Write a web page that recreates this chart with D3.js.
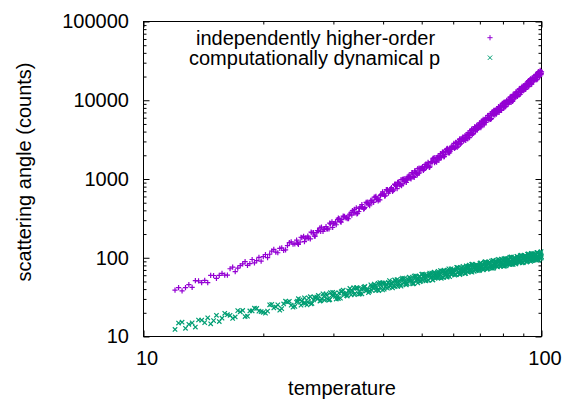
<!DOCTYPE html>
<html>
<head>
<meta charset="utf-8">
<script src="https://cdn.jsdelivr.net/npm/d3@7"></script>
<style>
  body { margin: 0; background: #fff; }
  svg { display: block; font-family: "Liberation Sans", Arial, sans-serif; }
  .axis text { font-size: 20px; fill: #000; font-family: "Liberation Sans", Arial, sans-serif; }
  .axis line { stroke: #000; }
  .axis path.domain { display: none; }
</style>
</head>
<body>
<svg id="chart" width="571" height="399"></svg>
<script>
// temperature samples, first pass
const temperatureA = [
  12, 12.5, 13, 13.5, 14, 14.5, 15, 15.5, 16, 16.5, 17, 17.5, 18, 18.5, 19, 19.5,
  20, 20.5, 21, 21.5, 22, 22.5, 23, 23.5, 24, 24.5, 25, 25.5, 26, 26.5, 27, 27.5,
  28, 28.5, 29, 29.5, 30, 30.5, 31, 31.5, 32, 32.5, 33, 33.5, 34, 34.5, 35, 35.5,
  36, 36.5, 37, 37.5, 38, 38.5, 39, 39.5, 40, 40.5, 41, 41.5, 42, 42.5, 43, 43.5,
  44, 44.5, 45, 45.5, 46, 46.5, 47, 47.5, 48, 48.5, 49, 49.5, 50, 50.5, 51, 51.5,
  52, 52.5, 53, 53.5, 54, 54.5, 55, 55.5, 56, 56.5, 57, 57.5, 58, 58.5, 59, 59.5,
  60, 60.5, 61, 61.5, 62, 62.5, 63, 63.5, 64, 64.5, 65, 65.5, 66, 66.5, 67, 67.5,
  68, 68.5, 69, 69.5, 70, 70.5, 71, 71.5, 72, 72.5, 73, 73.5, 74, 74.5, 75, 75.5,
  76, 76.5, 77, 77.5, 78, 78.5, 79, 79.5, 80, 80.5, 81, 81.5, 82, 82.5, 83, 83.5,
  84, 84.5, 85, 85.5, 86, 86.5, 87, 87.5, 88, 88.5, 89, 89.5, 90, 90.5, 91, 91.5,
  92, 92.5, 93, 93.5, 94, 94.5, 95, 95.5, 96, 96.5, 97, 97.5, 98, 98.5, 99, 99.5,
  100
];

// temperature samples, second pass
const temperatureB = [
  12.25, 12.75, 13.25, 13.75, 14.25, 14.75, 15.25, 15.75, 16.25, 16.75, 17.25, 17.75,
  18.25, 18.75, 19.25, 19.75, 20.25, 20.75, 21.25, 21.75, 22.25, 22.75, 23.25, 23.75,
  24.25, 24.75, 25.25, 25.75, 26.25, 26.75, 27.25, 27.75, 28.25, 28.75, 29.25, 29.75,
  30.25, 30.75, 31.25, 31.75, 32.25, 32.75, 33.25, 33.75, 34.25, 34.75, 35.25, 35.75,
  36.25, 36.75, 37.25, 37.75, 38.25, 38.75, 39.25, 39.75, 40.25, 40.75, 41.25, 41.75,
  42.25, 42.75, 43.25, 43.75, 44.25, 44.75, 45.25, 45.75, 46.25, 46.75, 47.25, 47.75,
  48.25, 48.75, 49.25, 49.75, 50.25, 50.75, 51.25, 51.75, 52.25, 52.75, 53.25, 53.75,
  54.25, 54.75, 55.25, 55.75, 56.25, 56.75, 57.25, 57.75, 58.25, 58.75, 59.25, 59.75,
  60.25, 60.75, 61.25, 61.75, 62.25, 62.75, 63.25, 63.75, 64.25, 64.75, 65.25, 65.75,
  66.25, 66.75, 67.25, 67.75, 68.25, 68.75, 69.25, 69.75, 70.25, 70.75, 71.25, 71.75,
  72.25, 72.75, 73.25, 73.75, 74.25, 74.75, 75.25, 75.75, 76.25, 76.75, 77.25, 77.75,
  78.25, 78.75, 79.25, 79.75, 80.25, 80.75, 81.25, 81.75, 82.25, 82.75, 83.25, 83.75,
  84.25, 84.75, 85.25, 85.75, 86.25, 86.75, 87.25, 87.75, 88.25, 88.75, 89.25, 89.75,
  90.25, 90.75, 91.25, 91.75, 92.25, 92.75, 93.25, 93.75, 94.25, 94.75, 95.25, 95.75,
  96.25, 96.75, 97.25, 97.75, 98.25, 98.75, 99.25, 99.75
];

// temperature samples, third pass (upper range only)
const temperatureC = [
  24.375, 24.875, 25.375, 25.875, 26.375, 26.875, 27.375, 27.875, 28.375, 28.875,
  29.375, 29.875, 30.375, 30.875, 31.375, 31.875, 32.375, 32.875, 33.375, 33.875,
  34.375, 34.875, 35.375, 35.875, 36.375, 36.875, 37.375, 37.875, 38.375, 38.875,
  39.375, 39.875, 40.375, 40.875, 41.375, 41.875, 42.375, 42.875, 43.375, 43.875,
  44.375, 44.875, 45.375, 45.875, 46.375, 46.875, 47.375, 47.875, 48.375, 48.875,
  49.375, 49.875, 50.375, 50.875, 51.375, 51.875, 52.375, 52.875, 53.375, 53.875,
  54.375, 54.875, 55.375, 55.875, 56.375, 56.875, 57.375, 57.875, 58.375, 58.875,
  59.375, 59.875, 60.375, 60.875, 61.375, 61.875, 62.375, 62.875, 63.375, 63.875,
  64.375, 64.875, 65.375, 65.875, 66.375, 66.875, 67.375, 67.875, 68.375, 68.875,
  69.375, 69.875, 70.375, 70.875, 71.375, 71.875, 72.375, 72.875, 73.375, 73.875,
  74.375, 74.875, 75.375, 75.875, 76.375, 76.875, 77.375, 77.875, 78.375, 78.875,
  79.375, 79.875, 80.375, 80.875, 81.375, 81.875, 82.375, 82.875, 83.375, 83.875,
  84.375, 84.875, 85.375, 85.875, 86.375, 86.875, 87.375, 87.875, 88.375, 88.875,
  89.375, 89.875, 90.375, 90.875, 91.375, 91.875, 92.375, 92.875, 93.375, 93.875,
  94.375, 94.875, 95.375, 95.875, 96.375, 96.875, 97.375, 97.875, 98.375, 98.875,
  99.375, 99.875
];

// "independently higher-order" (purple +)
const higherOrderA = [
  38.9, 38.0, 45.7, 51.3, 48.4, 48.4, 59.5, 59.6, 60.3, 72.5, 66.8, 79.4, 89.1, 84.1, 86.1, 101,
  103.5, 100.6, 121.7, 118.2, 131.8, 123.7, 142.8, 159.5, 149.6, 147.9, 179.8, 177.8, 177.8, 209.0, 188.5, 221.3,
  245.4, 229.0, 231.8, 269.1, 272.4, 262.4, 315.0, 304.2, 336.5, 313.2, 358.9, 398.2, 370.7, 365.6, 443.5, 437.5,
  436.5, 510.3, 457.3, 533.9, 588.6, 546.3, 549.5, 634.5, 638.6, 613.0, 733.2, 704.2, 776.1, 720.3, 822.0, 907.3,
  841.4, 824.4, 994.4, 975, 966.5, 1122, 1001, 1161, 1272, 1174, 1175, 1349, 1350, 1285, 1523, 1450,
  1585, 1462, 1659, 1820, 1679, 1637, 1961, 1910, 1883, 2184, 1940, 2244, 2454, 2259, 2251, 2576,
  2571, 2448, 2902, 2762, 3020, 2779, 3144, 3436, 3162, 3083, 3694, 3597, 3548, 4113, 3654, 4226,
  4622, 4255, 4242, 4852, 4843, 4612, 5467, 5202, 5688, 5217, 5886, 6422, 5888, 5721, 6838, 6646,
  6531, 7520, 6649, 7655, 8314, 7601, 7543, 8590, 8515, 8052, 9499, 8999, 9772, 8931, 10055, 10941,
  9999, 9683, 11545, 11194, 10965, 12624, 11161, 12852, 13958, 12762, 12663, 14419, 14295, 13517, 15947, 15108,
  16404, 14958, 16783, 18198, 16595, 16032, 19050, 18408, 17988, 20663, 18205, 20890, 22637, 20649, 20416, 23171,
  22918
];

const higherOrderB = [
  41.8, 41.7, 42.0, 51.0, 51.6, 59.9, 54.7, 63.5, 60.3, 75.9, 73.7, 83.7, 79.9, 95.0, 91.7, 90.7,
  110.0, 110.7, 127.7, 115.8, 133.8, 125.6, 155.4, 149.3, 167.9, 158.5, 186.3, 177.8, 173.8, 209.0, 209.0, 239.9,
  216.3, 248.3, 231.9, 285.2, 272.2, 304.5, 287.2, 337.1, 321.0, 313.0, 375.9, 375.5, 430.0, 386.9, 443.1, 412.9,
  505.7, 480.4, 535.5, 502.7, 587.6, 557.5, 541.8, 647.6, 644, 734.9, 658.9, 752.1, 698.4, 853.9, 811.2, 904.4,
  847.6, 987.8, 935.0, 906.1, 1078, 1066, 1209, 1078, 1223, 1129, 1373, 1297, 1435, 1336, 1547, 1456,
  1405, 1669, 1651, 1873, 1668, 1887, 1736, 2104, 1982, 2192, 2039, 2362, 2223, 2142, 2536, 2501,
  2830, 2516, 2846, 2620, 3178, 2993, 3306, 3077, 3567, 3356, 3231, 3828, 3776, 4272, 3796, 4295,
  3956, 4796, 4514, 4988, 4646, 5383, 5061, 4876, 5772, 5673, 6400, 5673, 6400, 5875, 7102, 6668,
  7336, 6790, 7826, 7319, 7007, 8256, 8097, 9107, 8045, 9052, 8289, 9990, 9349, 10273, 9513, 10958,
  10243, 9813, 11567, 11338, 12745, 11266, 12683, 11608, 13982, 13092, 14395, 13321, 15337, 14344, 13749, 16199,
  15850, 17776, 15668, 17578, 16041, 19278, 17998, 19721, 18198, 20903, 19495, 18622, 21876, 21381, 23979, 21135
];

const higherOrderC = [
  153.2, 182.0, 160.3, 188.3, 211.3, 188.4, 221.3, 216.3, 231.8, 231.8,
  275.4, 242.8, 284.6, 318.6, 283.8, 332.9, 324.5, 347.0, 346.8, 411.5,
  361.7, 423.8, 474.4, 421.9, 493.4, 479.3, 510.7, 507.8, 600.2, 525.7,
  613.8, 684.8, 606.9, 709.1, 688.8, 734.0, 729.9, 862.4, 755.7, 882.3,
  981.8, 868.0, 1011, 979.9, 1038, 1027, 1206, 1050, 1219, 1352,
  1191, 1385, 1335, 1410, 1390, 1628, 1417, 1645, 1825, 1608,
  1865, 1796, 1896, 1869, 2191, 1902, 2201, 2434, 2140, 2478,
  2385, 2521, 2486, 2912, 2528, 2927, 3239, 2846, 3294, 3172,
  3354, 3305, 3870, 3362, 3895, 4306, 3781, 4381, 4222, 4459,
  4392, 5147, 4472, 5177, 5721, 5029, 5813, 5583, 5882, 5780,
  6752, 5847, 6751, 7443, 6504, 7493, 7179, 7539, 7384, 8605,
  7434, 8554, 9399, 8213, 9465, 9062, 9512, 9326, 10869, 9382,
  10794, 11871, 10376, 11946, 11434, 12013, 11781, 13719, 11838, 13632,
  14997, 13097, 15074, 14439, 15176, 14869, 17280, 14877, 17077, 18721,
  16308, 18728, 17882, 18729, 18303, 21259, 18303, 21009, 23032, 20063,
  23039, 21999
];

// "computationally dynamical p" (green x)
const dynamicalPA = [
  12.3, 15.2, 14.3, 13.2, 16.1, 17.3, 15.9, 15.5, 19.7, 18.6, 17.7, 20.6, 17.9, 21.1, 22.9, 21.0,
  20.3, 21.0, 25.6, 23.7, 21.6, 25.9, 27.4, 25.0, 24.1, 30.2, 28.1, 26.5, 30.7, 26.3, 30.7, 33.2,
  30.1, 28.9, 29.8, 36.0, 33.0, 29.9, 35.7, 37.6, 34.0, 32.6, 40.7, 37.7, 35.3, 40.7, 34.7, 40.4,
  43.4, 39.2, 37.6, 38.5, 46.4, 42.4, 38.2, 45.5, 47.7, 43.0, 41.1, 51.2, 47.3, 44.1, 50.7, 43.2,
  50.1, 53.6, 48.4, 46.2, 47.2, 56.7, 51.7, 46.6, 55.3, 57.8, 52.1, 49.7, 61.7, 56.8, 53.0, 60.7,
  51.6, 59.8, 63.9, 57.5, 54.8, 55.9, 67.1, 61.1, 54.9, 65.1, 68.0, 61.1, 58.2, 72.2, 66.4, 61.8,
  70.8, 60.0, 69.4, 74.1, 66.6, 63.5, 64.7, 77.5, 70.4, 63.2, 74.9, 78.1, 70.1, 66.7, 82.7, 76.0,
  70.6, 80.8, 68.5, 79.1, 84.4, 75.7, 72.0, 73.3, 87.7, 79.6, 71.4, 84.4, 87.9, 78.8, 74.9, 92.7,
  85.0, 79.0, 90.2, 76.4, 88.2, 93.9, 84.2, 80.0, 81.4, 97.3, 88.2, 79.0, 93.4, 97.3, 87.2, 82.7,
  102.3, 93.8, 87.1, 99.4, 84.1, 97.0, 103.3, 92.5, 87.9, 89.3, 106.7, 96.7, 86.6, 102.3, 106.4, 95.3,
  90.5, 111.9, 102.5, 95.0, 108.4, 91.7, 105.7, 112.5, 100.7, 95.6, 97.1, 116.0, 105.1, 94.0, 111.0, 115.4,
  103.4
];

const dynamicalPB = [
  14.8, 12.7, 14.9, 16.2, 15.0, 14.5, 18.6, 17.1, 18.9, 17.0, 21.3, 21.4, 18.1, 21.1, 22.7, 20.7,
  19.8, 25.3, 23.1, 25.3, 22.6, 28.1, 28.0, 23.6, 27.3, 29.2, 26.5, 25.2, 32.0, 29.1, 31.7, 28.2,
  34.9, 34.7, 29.0, 33.5, 35.7, 32.3, 30.6, 38.7, 35.1, 38.1, 33.8, 41.7, 41.3, 34.5, 39.7, 42.2,
  38.1, 36.0, 45.4, 41.1, 44.6, 39.3, 48.4, 47.9, 39.9, 45.9, 48.6, 43.9, 41.4, 52.2, 47.1, 51.0,
  44.9, 55.2, 54.6, 45.4, 52.0, 55.1, 49.6, 46.8, 58.9, 53.0, 57.4, 50.5, 62.0, 61.2, 50.9, 58.2,
  61.6, 55.4, 52.2, 65.6, 59.0, 63.8, 56.1, 68.8, 67.8, 56.3, 64.4, 68.1, 61.2, 57.6, 72.3, 65.0,
  70.2, 61.7, 75.6, 74.4, 61.8, 70.6, 74.6, 67.0, 63.0, 79.0, 71.0, 76.6, 67.3, 82.4, 81.1, 67.2,
  76.8, 81.1, 72.7, 68.4, 85.7, 76.9, 82.9, 72.7, 89.0, 87.5, 72.5, 82.7, 87.2, 78.2, 73.4, 91.9,
  82.5, 88.9, 77.9, 95.3, 93.6, 77.5, 88.4, 93.2, 83.5, 78.4, 98.1, 88.0, 94.7, 83.0, 101.5, 99.7,
  82.5, 94.1, 99.1, 88.8, 83.3, 104.2, 93.4, 100.6, 88.1, 107.7, 105.7, 87.4, 99.7, 105.0, 94.0, 88.1,
  110.3, 98.8, 106.3, 93.1, 113.8, 111.7, 92.3, 105.2, 110.8, 99.2, 93.0, 116.2, 104.1, 112.0, 98.1, 119.8
];

const dynamicalPC = [
  28.1, 25.0, 31.0, 27.5, 25.9, 31.7, 30.1, 28.6, 32.3, 33.3,
  29.5, 36.4, 32.3, 30.3, 37.0, 35.1, 33.2, 37.4, 38.4, 34.0,
  41.9, 37.1, 34.7, 42.3, 40.0, 37.8, 42.6, 43.6, 38.5, 47.4,
  41.8, 39.1, 47.6, 45.0, 42.5, 47.7, 48.8, 43.0, 52.9, 46.6,
  43.5, 52.9, 49.9, 47.1, 52.8, 54.0, 47.5, 58.4, 51.4, 47.9,
  58.2, 54.9, 51.7, 57.9, 59.2, 52.0, 63.9, 56.2, 52.3, 63.5,
  59.8, 56.3, 63.0, 64.3, 56.6, 69.4, 61.0, 56.7, 68.8, 64.8,
  60.9, 68.2, 69.5, 61.1, 74.9, 65.7, 61.1, 74.1, 69.7, 65.6,
  73.3, 74.7, 65.6, 80.4, 70.5, 65.5, 79.4, 74.7, 70.2, 78.4,
  79.9, 70.1, 85.8, 75.3, 69.9, 84.6, 79.4, 74.6, 83.3, 84.8,
  74.3, 90.9, 79.7, 74.0, 89.5, 84.0, 78.9, 88.0, 89.6, 78.5,
  96.0, 84.1, 78.0, 94.4, 88.6, 83.1, 92.7, 94.3, 82.6, 101.0,
  88.5, 82.1, 99.3, 93.1, 87.3, 97.4, 99.0, 86.7, 106.0, 92.8,
  86.1, 104.1, 97.6, 91.5, 102.0, 103.7, 90.8, 110.9, 97.1, 90.0,
  108.8, 102.0, 95.6, 106.6, 108.3, 94.8, 115.8, 101.4, 93.9, 113.5,
  106.4, 99.7
];

const xTicks = [10, 100];
const yTicks = [10, 100, 1000, 10000, 100000];
const seriesNames = ['independently higher-order', 'computationally dynamical p'];
const seriesColors = ['#9400d3', '#009e73'];

const PLOT = { left: 143.5, right: 541.5, top: 21.5, bottom: 336.5 };
const MAJOR = 6, MINOR = 3;

const svg = d3.select('#chart');

const x = d3.scaleLog().domain([10, 100]).range([PLOT.left, PLOT.right]);
const y = d3.scaleLog().domain([10, 100000]).range([PLOT.bottom, PLOT.top]);

const xMinor = x.ticks().filter(v => !xTicks.includes(v));
const yMinor = y.ticks().filter(v => !yTicks.includes(v));

// Axes: ticks point inward on all four sides (gnuplot style)
function addAxis(axisFn, scale, ticks, size, tf, labels) {
  const a = axisFn(scale).tickValues(ticks).tickSizeInner(-size).tickSizeOuter(0);
  if (labels) a.tickFormat(d3.format('d')).tickPadding(14.5);
  else a.tickFormat('');
  return svg.append('g').attr('class', 'axis').attr('transform', tf).call(a);
}

const bottomAx = addAxis(d3.axisBottom, x, xTicks, MAJOR, `translate(0,${PLOT.bottom})`, true);
bottomAx.selectAll('text').attr('dx', 3);
addAxis(d3.axisBottom, x, xMinor, MINOR, `translate(0,${PLOT.bottom})`, false);
addAxis(d3.axisTop, x, xTicks, MAJOR, `translate(0,${PLOT.top})`, false);
addAxis(d3.axisTop, x, xMinor, MINOR, `translate(0,${PLOT.top})`, false);

addAxis(d3.axisLeft, y, yTicks, MAJOR, `translate(${PLOT.left},0)`, true);
addAxis(d3.axisLeft, y, yMinor, MINOR, `translate(${PLOT.left},0)`, false);
addAxis(d3.axisRight, y, yTicks, MAJOR, `translate(${PLOT.right},0)`, false);
addAxis(d3.axisRight, y, yMinor, MINOR, `translate(${PLOT.right},0)`, false);

// Border
svg.append('rect')
  .attr('x', PLOT.left).attr('y', PLOT.top)
  .attr('width', PLOT.right - PLOT.left).attr('height', PLOT.bottom - PLOT.top)
  .attr('fill', 'none').attr('stroke', '#000').attr('stroke-width', 1);

// Point symbols
const plusPath = 'M-2.6,0H2.6M0,-2.6V2.6';
const crossPath = 'M-2.2,-2.2L2.2,2.2M-2.2,2.2L2.2,-2.2';
const symbols = [plusPath, crossPath];

const pairs = (xs, ys) => ys.map((v, i) => [xs[i], v]);
const seriesData = [
  pairs(temperatureA, higherOrderA)
    .concat(pairs(temperatureB, higherOrderB), pairs(temperatureC, higherOrderC)),
  pairs(temperatureA, dynamicalPA)
    .concat(pairs(temperatureB, dynamicalPB), pairs(temperatureC, dynamicalPC))
];

seriesData.forEach((pts, si) => {
  svg.append('g')
    .selectAll('path')
    .data(pts)
    .join('path')
    .attr('transform', d => `translate(${x(d[0])},${y(d[1])})`)
    .attr('d', symbols[si])
    .attr('fill', 'none')
    .attr('stroke', seriesColors[si])
    .attr('stroke-width', 1.2);
});

// Key
const key = svg.append('g');
const keyRows = [{ tx: 196, my: 37.7 }, { tx: 189, my: 57.7 }];
seriesNames.forEach((name, i) => {
  key.append('text')
    .attr('x', keyRows[i].tx).attr('y', keyRows[i].my + 7)
    .attr('font-size', 20)
    .text(name);
  key.append('path')
    .attr('transform', `translate(490,${keyRows[i].my})`)
    .attr('d', symbols[i])
    .attr('fill', 'none')
    .attr('stroke', seriesColors[i]);
});

// Axis titles
svg.append('text')
  .attr('x', 342).attr('y', 394.5)
  .attr('text-anchor', 'middle')
  .attr('font-size', 20)
  .text('temperature');

svg.append('text')
  .attr('transform', 'translate(31,172) rotate(-90)')
  .attr('text-anchor', 'middle')
  .attr('font-size', 20)
  .text('scattering angle (counts)');
</script>
</body>
</html>
